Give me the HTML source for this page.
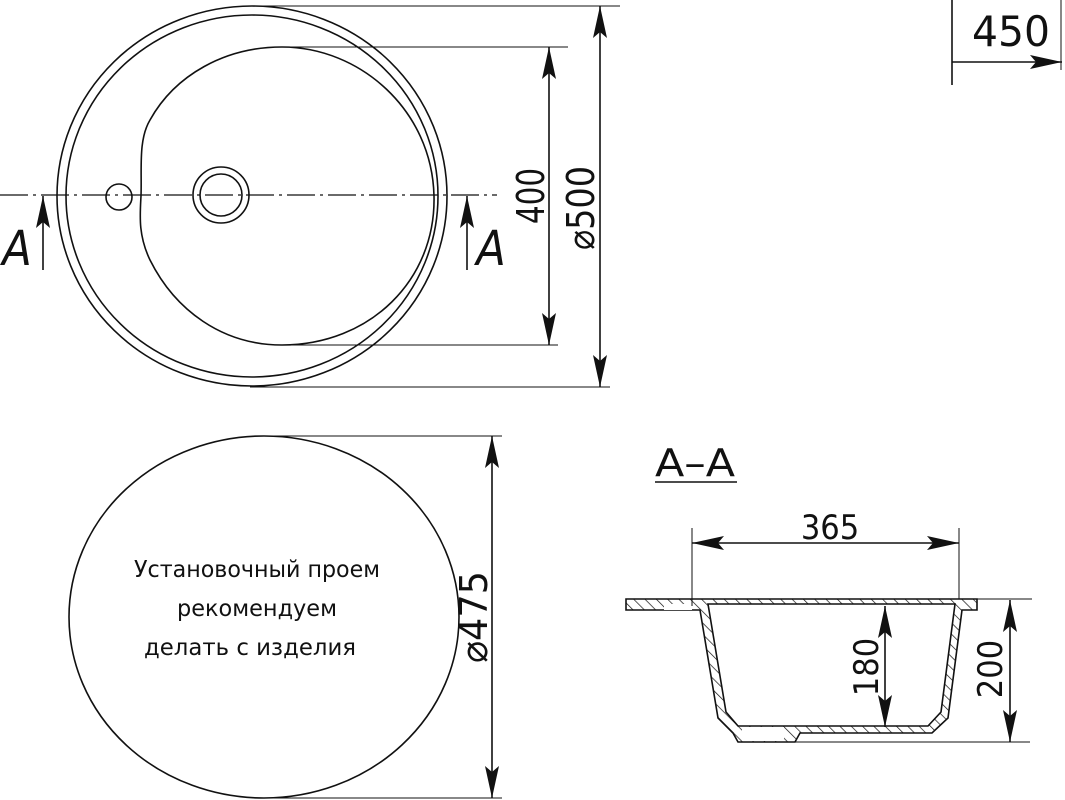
<!DOCTYPE html>
<html><head><meta charset="utf-8"><style>
html,body{margin:0;padding:0;background:#fff;}
svg{display:block;}
text{font-family:"DejaVu Sans Condensed","Liberation Sans",sans-serif;fill:#111;font-weight:300;}
</style></head><body>
<svg width="1065" height="800" viewBox="0 0 1065 800" xmlns="http://www.w3.org/2000/svg">
<defs>
<marker id="ar" viewBox="0 0 32 14" refX="32" refY="7" markerWidth="32" markerHeight="14" markerUnits="userSpaceOnUse" orient="auto-start-reverse">
<path d="M0,0 L32,7 L0,14 L6,7 Z" fill="#111"/></marker>
<pattern id="h" width="8" height="8" patternUnits="userSpaceOnUse" patternTransform="rotate(-45)">
<rect width="8" height="8" fill="#fff"/><line x1="0" y1="0" x2="0" y2="8" stroke="#111" stroke-width="1.4"/></pattern>
</defs>
<g fill="none" stroke="#111" stroke-width="1.6">
<ellipse cx="252" cy="196" rx="195" ry="190"/>
<ellipse cx="252" cy="196" rx="186" ry="181"/>
<path d="M282,47 C360,47 432,110 434,196 C436,280 370,345 282,345 C222,345 175,310 150,260 C138,235 140,215 141,196 C142,170 138,140 150,120 C175,75 225,47 282,47 Z"/>
<circle cx="221" cy="195" r="28"/>
<circle cx="221" cy="195" r="21"/>
<circle cx="119" cy="197" r="13"/>
<line x1="0" y1="195" x2="497" y2="195" stroke-dasharray="28,5,3,5" stroke-width="1.2"/>
<line x1="43" y1="270" x2="43" y2="196" marker-end="url(#ar)"/>
<line x1="467" y1="270" x2="467" y2="196" marker-end="url(#ar)"/>
<line x1="282" y1="47" x2="568" y2="47" stroke-width="1"/>
<line x1="282" y1="345" x2="558" y2="345" stroke-width="1"/>
<line x1="549" y1="47" x2="549" y2="345" marker-start="url(#ar)" marker-end="url(#ar)"/>
<line x1="250" y1="6" x2="620" y2="6" stroke-width="1"/>
<line x1="250" y1="387" x2="610" y2="387" stroke-width="1"/>
<line x1="600" y1="6" x2="600" y2="387" marker-start="url(#ar)" marker-end="url(#ar)"/>
<line x1="952" y1="0" x2="952" y2="85"/>
<line x1="1061" y1="0" x2="1061" y2="70" stroke-width="1"/>
<line x1="952" y1="62" x2="1062" y2="62" marker-end="url(#ar)"/>
<ellipse cx="264" cy="617" rx="195" ry="181"/>
<line x1="262" y1="436" x2="502" y2="436" stroke-width="1"/>
<line x1="262" y1="798" x2="502" y2="798" stroke-width="1"/>
<line x1="492" y1="436" x2="492" y2="798" marker-start="url(#ar)" marker-end="url(#ar)"/>
<line x1="655" y1="482" x2="737" y2="482"/>
<path d="M626,599 H977 V610 H962 L948,718 L932,733 H800 L795,742 H738 L733,733 L718,718 L700,610 H626 Z" fill="url(#h)"/>
<path d="M708,604 H955 L941,712 L928,726 H738 L726,712 Z" fill="#fff"/>
<line x1="626" y1="599" x2="1032" y2="599" stroke-width="1"/>
<line x1="738" y1="742" x2="1030" y2="742" stroke-width="1"/>
<rect x="664" y="604" width="28" height="6" fill="#fff" stroke="none"/>
<rect x="742" y="727" width="42" height="14" fill="#fff" stroke="none"/>
<line x1="692" y1="528" x2="692" y2="606" stroke-width="1"/>
<line x1="959" y1="528" x2="959" y2="599" stroke-width="1"/>
<line x1="692" y1="543" x2="959" y2="543" marker-start="url(#ar)" marker-end="url(#ar)"/>
<line x1="885" y1="606" x2="885" y2="727" marker-start="url(#ar)" marker-end="url(#ar)"/>
<line x1="1010" y1="600" x2="1010" y2="742" marker-start="url(#ar)" marker-end="url(#ar)"/>
</g>
<g font-size="38">
<text x="17" y="265" text-anchor="middle" font-style="italic" font-size="48">A</text>
<text x="491" y="265" text-anchor="middle" font-style="italic" font-size="48">A</text>
<text transform="translate(544,196) rotate(-90)" text-anchor="middle" textLength="56" lengthAdjust="spacingAndGlyphs">400</text>
<text transform="translate(594,208) rotate(-90)" text-anchor="middle" textLength="84" lengthAdjust="spacingAndGlyphs">⌀500</text>
<text x="1011" y="46" text-anchor="middle" font-size="42" textLength="78" lengthAdjust="spacingAndGlyphs">450</text>
<text transform="translate(487,617) rotate(-90)" text-anchor="middle" textLength="92" lengthAdjust="spacingAndGlyphs">⌀475</text>
<text x="695" y="476" text-anchor="middle" textLength="80" lengthAdjust="spacingAndGlyphs">A–A</text>
<text x="830" y="539" text-anchor="middle" font-size="34">365</text>
<text transform="translate(878,667) rotate(-90)" text-anchor="middle" font-size="34">180</text>
<text transform="translate(1002,669) rotate(-90)" text-anchor="middle" font-size="34">200</text>
</g>
<g font-size="23" text-anchor="middle">
<text x="257" y="577" textLength="246" lengthAdjust="spacingAndGlyphs">Установочный проем</text>
<text x="257" y="616" textLength="160" lengthAdjust="spacingAndGlyphs">рекомендуем</text>
<text x="250" y="655" textLength="212" lengthAdjust="spacingAndGlyphs">делать с изделия</text>
</g>
</svg>
</body></html>
